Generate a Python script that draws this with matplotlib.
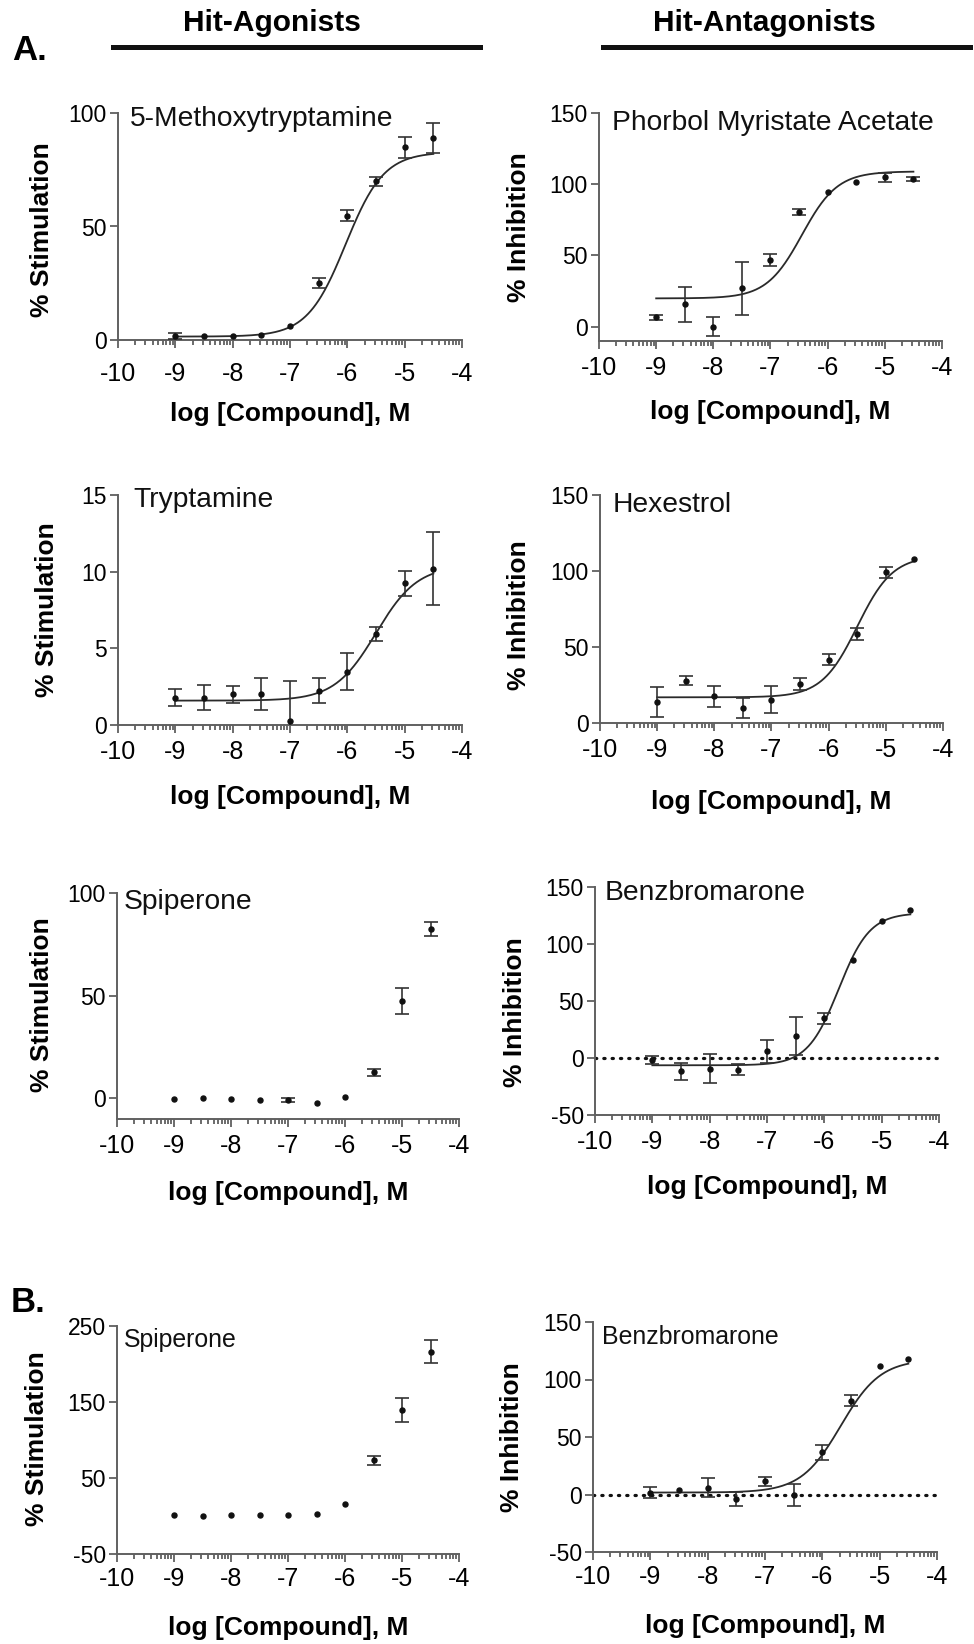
import matplotlib
matplotlib.use('Agg')
import matplotlib.pyplot as plt
from matplotlib.lines import Line2D
import numpy as np

plt.rcParams['font.family'] = ['Liberation Sans', 'DejaVu Sans']
plt.rcParams['axes.unicode_minus'] = False

W, H = 974, 1644

log_conc = [-9, -8.5, -8, -7.5, -7, -6.5, -6, -5.5, -5, -4.5]

# A. hit agonists (% stimulation)
mtryp_y = [1.8, 1.9, 1.8, 2.2, 6.3, 25.0, 54.7, 69.9, 84.9, 89.0]
mtryp_err = [1.5, 0, 0, 0, 0, 2.2, 2.4, 2.0, 4.7, 6.8]
mtryp_fit = [1.5, 82.8, -6.03, 1.3]      # bottom, top, logEC50, hill

tryp_y = [1.78, 1.78, 2.0, 2.04, 0.28, 2.24, 3.48, 5.93, 9.24, 10.2]
tryp_err = [0.57, 0.83, 0.54, 1.05, 2.6, 0.8, 1.2, 0.45, 0.8, 2.37]
tryp_fit = [1.59, 10.4, -5.5, 1.2]

spip_y = [-0.5, 0.0, -0.5, -0.8, -0.8, -2.4, 0.8, 12.7, 47.6, 82.6]
spip_err = [0, 0, 0, 0, 1.1, 0, 0, 1.6, 6.3, 3.5]

# A. hit antagonists (% inhibition)
pma_y = [6.6, 15.7, 0.0, 27.0, 46.9, 80.4, 94.4, 101.7, 104.8, 103.8]
pma_err = [1.8, 12.4, 6.6, 18.7, 4.2, 2.2, 0, 0, 3.0, 1.5]
pma_fit = [19.9, 109.0, -6.45, 1.4]

hex_y = [13.6, 27.8, 17.5, 9.9, 15.3, 25.8, 41.6, 58.5, 99.2, 107.7]
hex_err = [9.9, 3.0, 6.8, 6.5, 9.0, 3.8, 3.6, 4.2, 3.7, 0]
hex_fit = [16.9, 110.0, -5.5, 1.4]

benz_y = [-1.5, -11.7, -9.3, -10.2, 5.8, 19.3, 35.0, 86.4, 120.6, 130.0]
benz_err = [3.5, 7.6, 12.8, 4.8, 9.8, 16.5, 4.8, 0, 0, 0]
benz_fit = [-6.4, 127.3, -5.75, 1.6]

# B. confirmation
spip_b_y = [1.0, 0.5, 1.4, 1.8, 1.8, 2.7, 16.3, 73.2, 139.8, 216.4]
spip_b_err = [0, 0, 0, 0, 0, 0, 0, 6.4, 16.0, 15.3]

benz_b_y = [1.7, 3.8, 5.8, -4.1, 11.6, -0.6, 36.6, 81.7, 111.9, 118.0]
benz_b_err = [5.0, 0, 8.3, 6.0, 3.8, 9.3, 6.2, 4.6, 0, 0]
benz_b_fit = [1.7, 117.5, -5.68, 1.25]

GRAY = '#606060'


def logistic(x, p):
    bottom, top, ec50, hill = p
    return bottom + (top - bottom) / (1 + 10 ** ((ec50 - x) * hill))


def make_axes(fig, box, ylim, yticks, xpad):
    left, top, right, bottom = box
    ax = fig.add_axes([left / W, 1 - bottom / H, (right - left) / W, (bottom - top) / H])
    ax.set_xlim(-10, -4)
    ax.set_ylim(*ylim)
    for s in ['top', 'right']:
        ax.spines[s].set_visible(False)
    for s in ['left', 'bottom']:
        ax.spines[s].set_color(GRAY)
        ax.spines[s].set_linewidth(1.4)
    ax.set_xticks(range(-10, -3))
    ax.set_xticks([k + np.log10(j) for k in range(-10, -4) for j in range(2, 10)], minor=True)
    ax.set_yticks(yticks)
    ax.tick_params(axis='both', which='both', direction='out', color=GRAY, width=1.3)
    ax.tick_params(axis='x', which='major', length=6, labelsize=18, pad=xpad)
    ax.tick_params(axis='x', which='minor', length=3.5)
    ax.tick_params(axis='y', which='major', length=6, labelsize=16.5, pad=2)
    return ax


def draw(ax, y, err, fit=None, zero_line=False):
    x = np.array(log_conc)
    y = np.array(y)
    err = np.array(err, dtype=float)
    if zero_line:
        ax.plot([-10, -4], [0, 0], ls=(0, (0.4, 2.2)), lw=2.3, color='#111',
                dash_capstyle='round', zorder=1)
    if fit is not None:
        xs = np.linspace(-9, -4.5, 300)
        ax.plot(xs, logistic(xs, fit), color='#2a2a2a', lw=1.3, zorder=2)
    m = err > 0
    ax.errorbar(x[m], y[m], yerr=err[m], fmt='none', ecolor='#333', elinewidth=1.2,
                capsize=5, capthick=1.2, zorder=3)
    ax.plot(x, y, 'o', ms=3.6, color='#111', zorder=4)


def labels(ax, box, ylabel, xlab_y, ylab_x, ylab_y, title, title_x, title_y, title_size):
    left, top, right, bottom = box
    w, h = right - left, bottom - top
    ax.set_xlabel('log [Compound], M', fontsize=19, fontweight='bold', va='center', ha='center')
    ax.xaxis.set_label_coords(0.5, (bottom - xlab_y) / h)
    ax.set_ylabel(ylabel, fontsize=19, fontweight='bold', va='center', ha='center')
    ax.yaxis.set_label_coords((ylab_x - left) / w, (bottom - ylab_y) / h)
    ax.text((title_x - left) / w, (bottom - title_y) / h, title, transform=ax.transAxes,
            ha='left', va='center', fontsize=title_size, color='#111')


fig = plt.figure(figsize=(W / 100, H / 100), dpi=100)

# headers
fig.text(30 / W, 1 - 50 / H, 'A.', fontsize=25, fontweight='bold', ha='center', va='center')
fig.text(28 / W, 1 - 1302 / H, 'B.', fontsize=25, fontweight='bold', ha='center', va='center')
fig.text(272 / W, 1 - 23 / H, 'Hit-Agonists', fontsize=21.5, fontweight='bold', ha='center',
         va='center')
fig.text(764 / W, 1 - 23 / H, 'Hit-Antagonists', fontsize=21.5, fontweight='bold', ha='center',
         va='center')
fig.add_artist(Line2D([113 / W, 480 / W], [1 - 47 / H] * 2, lw=3.6, color='#111'))
fig.add_artist(Line2D([603 / W, 970 / W], [1 - 47 / H] * 2, lw=3.6, color='#111'))

# 5-Methoxytryptamine
box = (118, 113, 462, 340)
ax = make_axes(fig, box, (0, 100), [0, 50, 100], 10)
draw(ax, mtryp_y, mtryp_err, mtryp_fit)
labels(ax, box, '% Stimulation', 414, 42, 230, '5-Methoxytryptamine', 130, 119, 20.3)

# Phorbol Myristate Acetate
box = (599, 113, 942, 341)
ax = make_axes(fig, box, (-10, 150), [0, 50, 100, 150], 4.5)
draw(ax, pma_y, pma_err, pma_fit)
labels(ax, box, '% Inhibition', 412, 519, 227, 'Phorbol Myristate Acetate', 612, 123, 20.3)

# Tryptamine
box = (118, 495, 462, 725)
ax = make_axes(fig, box, (0, 15), [0, 5, 10, 15], 4.5)
draw(ax, tryp_y, tryp_err, tryp_fit)
labels(ax, box, '% Stimulation', 797, 47, 610, 'Tryptamine', 133, 500, 20.3)

# Hexestrol
box = (600, 495, 943, 723)
ax = make_axes(fig, box, (0, 150), [0, 50, 100, 150], 4.5)
draw(ax, hex_y, hex_err, hex_fit)
labels(ax, box, '% Inhibition', 802, 519, 615, 'Hexestrol', 613, 505, 20.3)

# Spiperone (A)
box = (117, 893, 459, 1119)
ax = make_axes(fig, box, (-10, 100), [0, 50, 100], 4.5)
draw(ax, spip_y, spip_err)
labels(ax, box, '% Stimulation', 1193, 42, 1005, 'Spiperone', 124, 902, 20.3)

# Benzbromarone (A)
box = (595, 887, 939, 1115)
ax = make_axes(fig, box, (-50, 150), [-50, 0, 50, 100, 150], 4.5)
draw(ax, benz_y, benz_err, benz_fit, zero_line=True)
labels(ax, box, '% Inhibition', 1187, 515, 1012, 'Benzbromarone', 605, 893, 20.3)

# Spiperone (B)
box = (117, 1326, 459, 1554)
ax = make_axes(fig, box, (-50, 250), [-50, 50, 150, 250], 3.5)
draw(ax, spip_b_y, spip_b_err)
labels(ax, box, '% Stimulation', 1628, 37, 1439, 'Spiperone', 124, 1340, 17.9)

# Benzbromarone (B)
box = (593, 1322, 937, 1552)
ax = make_axes(fig, box, (-50, 150), [-50, 0, 50, 100, 150], 3.5)
draw(ax, benz_b_y, benz_b_err, benz_b_fit, zero_line=True)
labels(ax, box, '% Inhibition', 1626, 512, 1437, 'Benzbromarone', 602, 1337, 17.9)

fig.savefig('out.png', dpi=100)
